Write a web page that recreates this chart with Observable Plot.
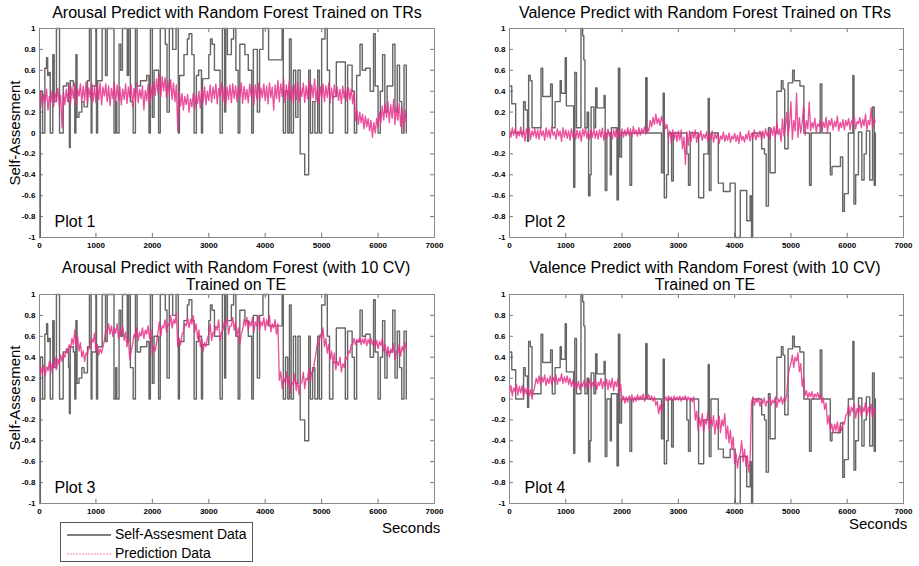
<!DOCTYPE html>
<html><head><meta charset="utf-8">
<script src="https://cdn.jsdelivr.net/npm/d3@7"></script>
<script src="https://cdn.jsdelivr.net/npm/@observablehq/plot@0.6"></script>
<style>
body{margin:0;background:#fff;}
#wrap{position:relative;width:919px;height:566px;overflow:hidden;font-family:"Liberation Sans",Arial,sans-serif;color:#000;}
.panel{position:absolute;}
.title{position:absolute;font-size:16px;text-align:center;white-space:nowrap;transform:translateX(-50%);line-height:18px;}
.ylab{position:absolute;font-size:15px;white-space:nowrap;transform:translate(-50%,-50%) rotate(-90deg);}
.sec{position:absolute;font-size:15px;white-space:nowrap;}
.legend{position:absolute;left:60px;top:522px;width:191px;height:38px;border:1px solid #555;background:#fff;font-size:14px;}
.legend div{position:absolute;left:54px;white-space:nowrap;}
</style></head><body><div id="wrap"></div>
<script>
// ---------- data ----------
const xTicks = [0,1000,2000,3000,4000,5000,6000,7000];
const yTicks = [-1,-0.8,-0.6,-0.4,-0.2,0,0.2,0.4,0.6,0.8,1];
const titles = [
  ["Arousal Predict with Random Forest Trained on TRs"],
  ["Valence Predict with Random Forest Trained on TRs"],
  ["Arousal Predict with Random Forest (with 10 CV)","Trained on TE"],
  ["Valence Predict with Random Forest (with 10 CV)","Trained on TE"]
];
const plotLabels = ["Plot 1","Plot 2","Plot 3","Plot 4"];
const yLabel = "Self-Assesment";
const xLabel = "Seconds";
const legendLabels = ["Self-Assesment Data","Prediction Data"];

// self-assessment (arousal) step data: time (s), value
const arousalSaT = [0,15,55,95,125,145,165,190,235,260,300,355,420,480,515,530,545,600,625,645,665,700,750,790,850,885,915,930,1000,1010,1030,1110,1170,1200,1320,1350,1370,1410,1440,1470,1555,1580,1610,1660,1700,1730,1790,1900,1940,1965,2000,2030,2110,2140,2230,2260,2300,2360,2420,2460,2480,2560,2620,2650,2700,2740,2780,2820,2870,2890,3000,3030,3060,3100,3200,3240,3280,3300,3330,3400,3440,3480,3520,3550,3640,3700,3760,3790,3860,3900,3960,4060,4300,4320,4360,4400,4430,4460,4500,4540,4580,4620,4700,4770,4800,4840,4880,4930,4960,5000,5060,5100,5140,5200,5260,5420,5460,5540,5580,5620,5680,5720,5780,5860,5920,5950,6000,6040,6080,6120,6160,6220,6260,6300,6340,6380,6420,6460,6500];
const arousalSaV = [-1,0.4,0,0.62,0.72,0.55,0.58,0,0.75,0.3,1,0,0.45,0.48,0.3,-0.14,0.5,0.45,0,0.75,0.15,0.2,0.3,0.25,0.5,1,0,0.45,1,0,0.5,1,0.55,1,0,0.3,0,0.85,0.6,1,0.55,1,0.3,0,1,0.45,0.5,0.55,0,1,0.15,0.6,0,1,0.85,0.2,1,0.8,1,0,0.55,0.75,0.9,0.95,0.75,0,0.55,0.6,0,0.52,0.75,0.9,0.85,0.6,0,1,0.2,1,0.75,0.9,1,0.6,0,0.85,0.75,0.6,0,0.8,0.2,0.8,1,0.7,1,0,0.4,0,0.9,0,0.6,0.15,0.6,-0.2,-0.4,0.6,0,0.3,0,0.6,0,0.9,1,0.6,0,0.35,0.68,0,0.65,0.4,0,0.55,0.85,0.6,0.62,0.4,0.95,0.45,0,0.4,0.75,0.2,0.45,0.45,0.85,0.2,0.65,0.3,0,0.65,0];

// self-assessment (valence) step data
const valenceSaT = [0,40,110,250,280,320,340,370,400,560,590,730,760,810,900,920,990,1010,1140,1160,1190,1270,1300,1320,1340,1380,1405,1430,1450,1500,1530,1555,1680,1700,1730,1790,1810,1910,1935,1960,1990,2140,2170,2420,2445,2700,2730,2750,2790,2820,2880,2910,3150,3180,3210,3360,3450,3530,3550,3580,3710,3800,3920,4010,4100,4215,4275,4300,4320,4480,4530,4560,4600,4630,4720,4750,4830,4860,4890,4950,5030,5060,5160,5230,5330,5360,5520,5550,5700,5730,5880,5920,5950,6020,6100,6120,6150,6200,6260,6300,6340,6400,6450,6480,6500];
const valenceSaV = [0.45,0.28,0,0.3,0.22,-0.08,0.55,0.5,0.05,0.62,0.35,0.47,0.05,0.3,0.5,0.38,0.72,0.26,-0.52,0.58,0.05,1,0.93,0.7,0.05,0.2,-0.6,-0.4,0.25,0.05,0.43,0.24,0.36,-0.55,0,-0.4,0.05,-0.64,0.62,-0.23,0,-0.5,0,0.53,0,-0.38,0.38,-0.62,-0.4,0,-0.46,0,-0.2,-0.5,0,-0.62,-0.2,0.33,-0.55,0,-0.48,-0.56,-0.48,-1,-0.55,-0.84,-0.6,-1,0,-0.15,-0.2,-0.7,0.05,-0.38,0,0.4,0.5,0.42,-0.15,0.48,0.6,0.5,0.45,0,-0.5,0,0.47,0,-0.4,-0.32,-0.23,-0.75,-0.58,0,0.55,-0.68,-0.4,0.01,-0.45,-0.2,0.02,-0.45,0.25,-0.5,0];

// predictions, sampled every 25 s from 0 to 6500 s (one row = 500 s)
const predStep = 25;
const pred1 = [
0.28,0.40,0.24,0.37,0.30,0.42,0.22,0.35,0.29,0.41,0.25,0.38,0.31,0.43,0.26,0.36,0.05,0.39,0.27,0.42,
0.30,0.46,0.28,0.44,0.33,0.48,0.26,0.42,0.35,0.47,0.29,0.45,0.31,0.49,0.27,0.43,0.34,0.48,0.30,0.44,
0.29,0.46,0.32,0.48,0.27,0.44,0.35,0.47,0.30,0.45,0.26,0.43,0.33,0.49,0.28,0.46,0.31,0.44,0.27,0.42,
0.32,0.47,0.28,0.44,0.34,0.46,0.25,0.43,0.30,0.48,0.29,0.42,0.33,0.45,0.22,0.41,0.31,0.47,0.28,0.44,
0.33,0.49,0.36,0.52,0.38,0.56,0.35,0.54,0.40,0.53,0.34,0.50,0.37,0.51,0.32,0.48,0.30,0.46,0.02,0.40,
0.26,0.38,0.22,0.35,0.27,0.37,0.20,0.33,0.25,0.38,0.23,0.36,0.28,0.40,0.24,0.42,0.30,0.44,0.27,0.40,
0.31,0.46,0.29,0.44,0.33,0.47,0.28,0.43,0.35,0.48,0.30,0.45,0.27,0.44,0.32,0.46,0.29,0.47,0.33,0.45,
0.30,0.44,0.34,0.48,0.28,0.45,0.32,0.42,0.29,0.47,0.35,0.44,0.27,0.46,0.33,0.48,0.30,0.43,0.34,0.47,
0.31,0.45,0.28,0.48,0.34,0.44,0.22,0.46,0.33,0.50,0.30,0.47,0.35,0.52,0.29,0.46,0.33,0.49,0.31,0.45,
0.28,0.46,0.32,0.49,0.30,0.44,0.35,0.48,0.29,0.45,0.33,0.50,0.31,0.46,0.34,0.52,0.30,0.45,0.28,0.44,
0.33,0.47,0.30,0.45,0.34,0.48,0.29,0.43,0.32,0.46,0.35,0.44,0.31,0.42,0.28,0.45,0.33,0.43,0.30,0.44,
0.32,0.42,0.28,0.40,0.12,0.22,0.08,0.20,0.10,0.18,0.04,0.16,0.06,0.14,0.02,0.12,-0.04,0.10,0.00,0.14,
0.05,0.20,0.10,0.26,0.12,0.28,0.15,0.30,0.10,0.27,0.14,0.32,0.08,0.25,0.12,0.29,0.06,0.24,0.02,0.22,
0.10];
const pred2 = [
0.03,-0.04,0.05,-0.02,0.04,-0.05,0.02,-0.03,0.06,-0.04,0.03,-0.08,0.04,-0.02,0.05,-0.06,0.02,-0.03,0.04,-0.05,
0.03,-0.06,0.04,-0.03,0.02,-0.07,0.05,-0.04,0.03,-0.05,0.06,-0.02,0.01,-0.06,0.04,-0.03,0.02,-0.08,0.05,-0.04,
0.03,-0.05,0.02,-0.07,0.04,-0.04,0.01,-0.06,0.03,-0.05,0.02,-0.08,0.04,-0.03,0.05,-0.05,0.02,-0.06,0.03,-0.04,
0.04,-0.05,0.02,-0.06,0.03,-0.04,0.05,-0.07,0.02,-0.05,0.04,-0.03,0.01,-0.06,0.03,-0.04,0.05,-0.05,0.02,-0.03,
0.04,-0.04,0.03,-0.03,0.05,-0.02,0.04,-0.04,0.06,-0.01,0.03,-0.03,0.05,-0.02,0.04,0.00,0.06,-0.01,0.05,0.02,
0.12,0.06,0.15,0.08,0.18,0.09,0.14,0.07,0.16,0.10,0.12,0.04,0.08,-0.04,0.02,-0.10,0.03,-0.06,0.01,-0.08,
0.02,-0.07,0.03,-0.15,-0.04,-0.30,0.01,-0.12,0.02,-0.08,0.01,-0.05,0.03,-0.09,0.00,-0.04,0.02,-0.07,-0.01,-0.05,
0.01,-0.08,-0.02,-0.06,0.02,-0.09,-0.01,-0.05,0.00,-0.10,-0.03,-0.06,0.01,-0.08,-0.02,-0.07,0.00,-0.09,-0.03,-0.06,
0.00,-0.08,-0.02,-0.10,0.01,-0.07,-0.03,-0.09,-0.01,-0.06,0.02,-0.08,0.00,-0.05,0.03,-0.07,-0.01,-0.04,0.02,-0.06,
0.02,-0.05,0.04,-0.03,0.01,-0.06,0.05,-0.02,0.06,-0.04,0.10,-0.02,0.04,-0.08,0.14,-0.03,0.05,0.20,-0.02,0.08,
0.30,-0.06,0.12,0.02,0.38,-0.04,0.15,0.00,0.10,0.26,-0.02,0.12,0.04,0.30,0.02,0.10,0.05,0.14,0.01,0.09,
0.06,0.13,0.02,0.10,0.05,0.15,0.01,0.12,0.07,0.14,0.03,0.11,0.06,0.16,0.02,0.10,0.05,0.13,0.03,0.12,
0.07,0.14,0.03,0.12,0.08,0.16,0.04,0.11,0.09,0.15,0.05,0.13,0.07,0.18,0.03,0.12,0.08,0.24,0.05,0.14,
0.10];
const pred3 = [
0.20,0.30,0.24,0.33,0.22,0.31,0.27,0.36,0.25,0.34,0.30,0.40,0.28,0.38,0.33,0.42,0.36,0.44,0.40,0.47,
0.44,0.52,0.48,0.58,0.52,0.66,0.50,0.60,0.46,0.54,0.40,0.46,0.36,0.44,0.42,0.50,0.48,0.58,0.54,0.63,
0.46,0.52,0.42,0.48,0.44,0.50,0.56,0.66,0.64,0.72,0.62,0.70,0.60,0.68,0.63,0.72,0.58,0.66,0.62,0.70,
0.56,0.64,0.50,0.58,0.38,0.46,0.52,0.62,0.58,0.68,0.56,0.64,0.60,0.68,0.58,0.66,0.62,0.70,0.58,0.66,
0.42,0.50,0.46,0.54,0.64,0.74,0.60,0.70,0.68,0.76,0.64,0.72,0.70,0.80,0.68,0.76,0.72,0.82,0.50,0.58,
0.52,0.62,0.64,0.72,0.70,0.78,0.68,0.76,0.72,0.80,0.64,0.72,0.58,0.66,0.50,0.58,0.46,0.54,0.50,0.58,
0.62,0.72,0.56,0.64,0.62,0.70,0.66,0.76,0.56,0.64,0.66,0.74,0.70,0.78,0.62,0.70,0.70,0.78,0.66,0.74,
0.60,0.68,0.52,0.62,0.66,0.76,0.70,0.78,0.66,0.74,0.70,0.78,0.64,0.74,0.70,0.80,0.66,0.74,0.70,0.78,
0.66,0.76,0.70,0.80,0.64,0.72,0.68,0.76,0.62,0.72,0.18,0.26,0.10,0.20,0.16,0.26,0.12,0.22,0.06,0.16,
0.14,0.24,0.08,0.18,0.04,0.14,0.16,0.26,0.10,0.20,0.18,0.30,0.16,0.26,0.26,0.36,0.44,0.54,0.52,0.62,
0.58,0.68,0.50,0.58,0.44,0.52,0.38,0.46,0.34,0.44,0.28,0.36,0.32,0.40,0.26,0.34,0.30,0.40,0.38,0.46,
0.44,0.52,0.52,0.58,0.52,0.57,0.54,0.59,0.52,0.58,0.53,0.59,0.51,0.57,0.53,0.58,0.52,0.57,0.50,0.56,
0.48,0.55,0.51,0.58,0.46,0.52,0.42,0.50,0.40,0.48,0.45,0.53,0.38,0.46,0.44,0.52,0.41,0.50,0.46,0.54,
0.48];
const pred4 = [
0.06,0.13,0.03,0.11,0.07,0.14,0.04,0.12,0.06,0.13,0.02,0.10,0.05,0.12,0.03,0.09,0.00,0.07,0.12,0.20,
0.15,0.22,0.14,0.21,0.16,0.23,0.13,0.20,0.15,0.22,0.14,0.21,0.16,0.23,0.14,0.20,0.17,0.24,0.15,0.21,
0.16,0.22,0.14,0.20,0.12,0.18,0.10,0.16,0.11,0.17,0.09,0.15,0.12,0.18,0.10,0.16,0.13,0.19,0.10,0.16,
0.12,0.18,0.09,0.16,0.13,0.20,0.10,0.17,0.12,0.19,0.09,0.18,0.11,0.20,0.08,0.17,0.12,0.19,0.06,0.14,
-0.02,0.03,-0.04,0.02,-0.03,0.03,-0.01,0.04,-0.03,0.02,-0.02,0.04,-0.01,0.03,0.00,0.05,-0.02,0.03,0.01,0.04,
-0.01,0.03,-0.02,0.02,-0.06,-0.02,-0.14,-0.06,-0.12,-0.04,-0.03,0.02,-0.02,0.03,-0.01,0.02,-0.02,0.03,-0.01,0.02,
-0.01,0.03,-0.02,0.02,0.00,0.03,-0.02,0.02,-0.01,0.01,-0.03,0.02,-0.20,-0.12,-0.30,-0.18,-0.26,-0.14,-0.32,-0.20,
-0.24,-0.12,-0.30,-0.18,-0.26,-0.16,-0.34,-0.20,-0.28,-0.16,-0.32,-0.20,-0.26,-0.14,-0.38,-0.26,-0.42,-0.30,-0.48,-0.36,
-0.62,-0.52,-0.66,-0.56,-0.52,-0.40,-0.60,-0.48,-0.64,-0.54,-0.70,-0.58,-0.03,0.02,-0.06,0.00,-0.03,0.01,-0.07,-0.01,
-0.04,0.01,-0.07,-0.02,-0.03,0.02,-0.06,-0.01,-0.04,0.02,-0.08,0.00,-0.03,0.02,-0.05,0.01,-0.02,0.04,0.22,0.30,
0.34,0.42,0.30,0.40,0.36,0.44,0.26,0.34,0.12,0.20,0.03,0.08,0.01,0.06,0.02,0.07,0.00,0.05,0.02,0.06,
0.01,0.05,-0.04,0.01,-0.10,-0.04,-0.24,-0.16,-0.30,-0.24,-0.32,-0.24,-0.30,-0.22,-0.33,-0.25,-0.30,-0.22,-0.24,-0.16,
-0.14,-0.06,-0.16,-0.08,-0.12,-0.04,-0.18,-0.09,-0.14,-0.06,-0.17,-0.08,-0.12,-0.03,-0.16,-0.08,-0.14,-0.05,-0.18,-0.09,
-0.12];

// ---------- drawing ----------
const wrap = document.getElementById("wrap");
const SA_COLOR = "#555555", PRED_COLOR = "#e8308a";

function panel(i, saT, saV, pred, left, top, width, ml, mr) {
  const sa = saT.map((t, k) => ({t, v: saV[k]}));
  const pr = pred.map((v, k) => ({t: k * predStep, v}));
  const svg = Plot.plot({
    width, height: 260,
    marginLeft: ml, marginRight: mr, marginTop: 28, marginBottom: 23,
    style: {fontFamily: '"Liberation Sans", Arial, sans-serif', fontSize: "8px", fontWeight: "bold", background: "transparent", overflow: "visible"},
    x: {domain: [0, 7000]},
    y: {domain: [-1, 1]},
    marks: [
      Plot.axisX({ticks: xTicks, tickSize: 0, tickPadding: 5, label: null, tickFormat: d => String(d)}),
      Plot.axisY({ticks: yTicks, tickSize: 0, tickPadding: 4, label: null, tickFormat: d => String(d)}),
      Plot.ruleX(xTicks, {y1: -1, y2: -0.96, stroke: "#777"}),
      Plot.ruleX(xTicks, {y1: 0.96, y2: 1, stroke: "#777"}),
      Plot.ruleY(yTicks, {x1: 0, x2: 70, stroke: "#777"}),
      Plot.ruleY(yTicks, {x1: 6930, x2: 7000, stroke: "#777"}),
      Plot.line(sa, {x: "t", y: "v", curve: "step-after", stroke: SA_COLOR, strokeWidth: 1.4, strokeOpacity: 0.9}),
      Plot.line(pr, {x: "t", y: "v", stroke: PRED_COLOR, strokeWidth: 1.4, strokeDasharray: "2,1", strokeOpacity: 0.85}),
      Plot.frame({stroke: "#8a8a8a"}),
      Plot.text([plotLabels[i]], {frameAnchor: "bottom-left", dx: 15, dy: -11, fontSize: 16, fontWeight: "normal", fill: "#000"})
    ]
  });
  svg.classList.add("panel");
  svg.style.left = left + "px";
  svg.style.top = top + "px";
  wrap.appendChild(svg);
}

panel(0, arousalSaT, arousalSaV, pred1, 0, 0, 460, 39, 26);
panel(1, valenceSaT, valenceSaV, pred2, 460, 0, 459, 49, 16);
panel(2, arousalSaT, arousalSaV, pred3, 0, 266, 460, 39, 26);
panel(3, valenceSaT, valenceSaV, pred4, 460, 266, 459, 49, 16);

function addDiv(cls, text, css) {
  const d = document.createElement("div");
  d.className = cls; d.textContent = text;
  Object.assign(d.style, css);
  wrap.appendChild(d);
  return d;
}
// titles
addDiv("title", titles[0][0], {left: "237px", top: "4px"});
addDiv("title", titles[1][0], {left: "705px", top: "4px"});
addDiv("title", titles[2][0], {left: "236px", top: "259px"});
addDiv("title", titles[2][1], {left: "236px", top: "276px"});
addDiv("title", titles[3][0], {left: "705px", top: "259px"});
addDiv("title", titles[3][1], {left: "705px", top: "276px"});
// y labels
addDiv("ylab", yLabel, {left: "14px", top: "133px"});
addDiv("ylab", yLabel, {left: "14px", top: "398px"});
// x labels
addDiv("sec", xLabel, {left: "382px", top: "519px"});
addDiv("sec", xLabel, {left: "849px", top: "515px"});
// legend
const lg = document.createElement("div");
lg.className = "legend";
lg.innerHTML = `<svg width="191" height="38" style="position:absolute;left:0;top:0">
<line x1="6" x2="50" y1="12" y2="12" stroke="${SA_COLOR}" stroke-width="1.5"/>
<line x1="6" x2="50" y1="31" y2="31" stroke="${PRED_COLOR}" stroke-opacity="0.6" stroke-width="1" stroke-dasharray="2,1"/></svg>`;
const l1 = document.createElement("div"); l1.textContent = legendLabels[0]; l1.style.top = "3px";
const l2 = document.createElement("div"); l2.textContent = legendLabels[1]; l2.style.top = "22px";
lg.appendChild(l1); lg.appendChild(l2);
wrap.appendChild(lg);
</script></body></html>
